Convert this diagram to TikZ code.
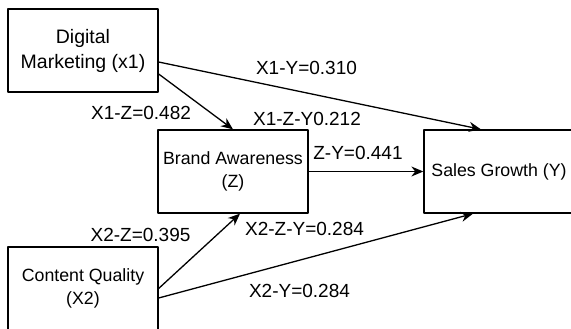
\documentclass[tikz,border=0pt]{standalone}
\usepackage{fontspec}
\setmainfont{Liberation Sans}
\usetikzlibrary{arrows.meta}
\begin{document}
\begin{tikzpicture}[x=1pt, y=-1pt, line cap=round, line join=round,
  box/.style={draw, line width=1.3pt, minimum width=150pt, minimum height=83pt,
    inner sep=0pt, align=center, font=\fontsize{17.75}{23}\selectfont},
  lbl/.style={anchor=base, inner sep=0pt, font=\fontsize{19}{22}\selectfont},
  arr/.style={line width=1.3pt, -{Stealth[length=12pt, width=10pt]}}]
  \useasboundingbox (0,0) rectangle (571,329);
  \clip (0,0) rectangle (571,329);

  \node[box, font=\fontsize{19.5}{25}\selectfont] (dm) at (83,50.5) {Digital\\Marketing (x1)};
  \node[box] (ba) at (233,171.5) {Brand Awareness\\(Z)};
  \node[box] (cq) at (83,288.5) {Content Quality\\(X2)};
  \node[box] (sg) at (499,171.5) {Sales Growth (Y)};

  \draw[arr] ([yshift=-11.5pt]dm.east) -- ([xshift=-18pt]sg.north);
  \draw[arr] ([yshift=-23.5pt]dm.east) -- (ba.north);
  \draw[arr] (ba.east) -- (sg.west);
  \draw[arr] (cq.east) -- ([xshift=7pt]ba.south);
  \draw[arr] ([yshift=-9.5pt]cq.east) -- ([xshift=-26pt]sg.south);

  \node[lbl] (l1) at (306.5,75) {X1-Y=0.310};
  \node[lbl] (l2) at (141,120) {X1-Z=0.482};
  \node[lbl] (l3) at (307,125) {X1-Z-Y0.212};
  \node[lbl] (l4) at (358,160) {Z-Y=0.441};
  \node[lbl] (l5) at (140.5,241) {X2-Z=0.395};
  \node[lbl] (l6) at (304.5,235) {X2-Z-Y=0.284};
  \node[lbl] (l7) at (299.5,297) {X2-Y=0.284};
\end{tikzpicture}
\end{document}
